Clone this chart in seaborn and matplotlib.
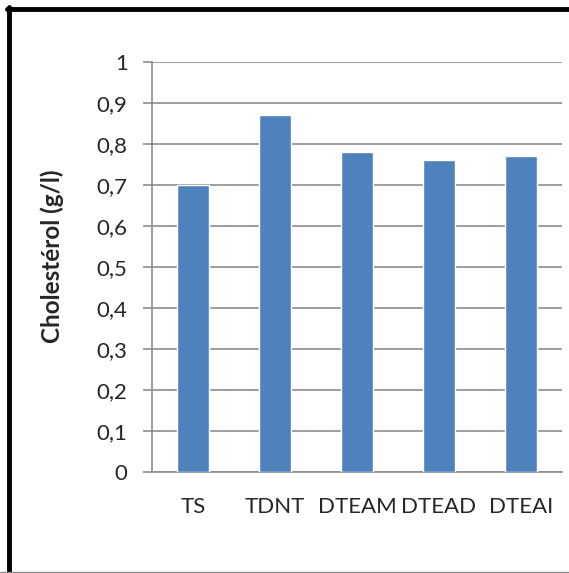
import matplotlib
matplotlib.use("Agg")
import matplotlib.pyplot as plt
import seaborn as sns
import pandas as pd
from matplotlib.lines import Line2D

categories = ["TS", "TDNT", "DTEAM", "DTEAD", "DTEAI"]
values = [0.70, 0.87, 0.78, 0.76, 0.77]
ytick_values = [0, 0.1, 0.2, 0.3, 0.4, 0.5, 0.6, 0.7, 0.8, 0.9, 1.0]
ytick_labels = ["0", "0,1", "0,2", "0,3", "0,4", "0,5", "0,6", "0,7", "0,8", "0,9", "1"]
ylabel = "Cholestérol (g/l)"

sns.set_style("white")
plt.rcParams['font.family'] = ['Lato', 'DejaVu Sans']

df = pd.DataFrame({"cat": categories, "val": values})

fig = plt.figure(figsize=(5.69, 5.73), dpi=100)
ax = fig.add_axes([152/569, 1-472/573, (562-152)/569, (472-62)/573])

sns.barplot(data=df, x="cat", y="val", color="#4F81BD", width=0.4, ax=ax,
            saturation=1, zorder=3)

ax.set_ylim(0, 1)
ax.set_xlim(-0.5, len(categories) - 0.5)
ax.set_yticks(ytick_values)
ax.set_yticklabels(ytick_labels)
ax.yaxis.grid(True, color="#8c8c8c", linewidth=1.2, zorder=0)
ax.set_axisbelow(True)
for s in ["top", "right"]:
    ax.spines[s].set_visible(False)
ax.spines["left"].set_color("#8c8c8c")
ax.spines["bottom"].set_color("#8c8c8c")
ax.spines["left"].set_linewidth(1.2)
ax.spines["bottom"].set_linewidth(1.2)

# category ticks at boundaries
ax.set_xticks([i - 0.5 for i in range(len(categories) + 1)], minor=True)
ax.set_xticks(range(len(categories)))
ax.set_xticklabels(categories)
ax.tick_params(axis="x", which="major", length=0, pad=18, labelsize=16)
ax.tick_params(axis="x", which="minor", length=6, width=1.2, color="#8c8c8c", direction="out")
ax.tick_params(axis="y", length=6.5, width=1.2, color="#8c8c8c", direction="out", labelsize=16, pad=11, left=True)
ax.set_xlabel("")
ax.set_ylabel(ylabel, fontsize=17.5, fontweight="bold")
ax.yaxis.set_label_coords(-0.215, 0.527)

# outer frame
fig.add_artist(Line2D([8.5/569, 8.5/569], [0, 1 - 7/573], transform=fig.transFigure, color="black", linewidth=3.5))
fig.add_artist(Line2D([7/569, 1], [1 - 8.5/573, 1 - 8.5/573], transform=fig.transFigure, color="black", linewidth=3.5))
fig.add_artist(Line2D([0, 1], [1/573, 1/573], transform=fig.transFigure, color="#8c8c8c", linewidth=1))

fig.savefig("out.png", dpi=100)
